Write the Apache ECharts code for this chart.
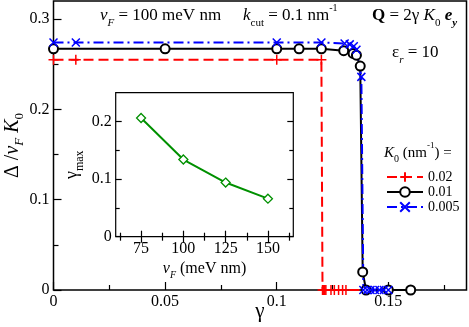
<!DOCTYPE html>
<html>
<head>
<meta charset="utf-8">
<script src="https://cdn.jsdelivr.net/npm/echarts@6/dist/echarts.min.js"></script>
<style>
  html, body { margin: 0; padding: 0; background: #fff; }
  #chart { width: 469px; height: 327px; }
</style>
</head>
<body>
<div id="chart"></div>
<script>
// main panel: gap Delta/(vF K0) against gamma, one curve per K0
const gammaK002 = [0, 0.01, 0.1, 0.12, 0.1205, 0.121, 0.1215, 0.122, 0.1243, 0.1258, 0.1277, 0.1295, 0.131, 0.14, 0.15];
const deltaK002 = [0.255, 0.255, 0.255, 0.255, 0, 0, 0, 0, 0, 0, 0, 0, 0, 0, 0];
const gammaK001 = [0, 0.05, 0.1, 0.11, 0.12, 0.13, 0.1342, 0.1357, 0.1374, 0.1385, 0.14, 0.15, 0.16];
const deltaK001 = [0.267, 0.267, 0.267, 0.267, 0.267, 0.265, 0.262, 0.26, 0.248, 0.02, 0, 0, 0];
const gammaK0005 = [0, 0.01, 0.1, 0.12, 0.1304, 0.1327, 0.1345, 0.1357, 0.1379, 0.1388, 0.1405, 0.142, 0.144, 0.146, 0.148, 0.15];
const deltaK0005 = [0.274, 0.274, 0.274, 0.274, 0.273, 0.272, 0.27, 0.266, 0.236, 0, 0, 0, 0, 0, 0, 0];
const k0Names = ['0.02', '0.01', '0.005'];

// inset: gamma_max against vF
const vF = [75, 100, 125, 150];
const gammaMax = [0.206, 0.134, 0.094, 0.066];

// ticks
const xMajor = [0, 0.05, 0.1, 0.15];
const xMinor = [0.025, 0.075, 0.125, 0.175];
const yMajor = [0, 0.1, 0.2, 0.3];
const yMinor = [0.05, 0.15, 0.25];
const inXMajor = [75, 100, 125, 150];
const inXMinor = [62.5, 87.5, 112.5, 137.5, 162.5];
const inYMajor = [0, 0.1, 0.2];
const inYMinor = [0.05, 0.15];

const serif = 'Liberation Serif';
const zip = (a, b) => a.map((v, i) => [v, b[i]]);

function rich(S) {
  const sub = Math.round(S * 0.65), sup = Math.round(S * 0.6);
  return {
    n: { fontFamily: serif, fontSize: S, lineHeight: S + 8, color: '#000' },
    i: { fontFamily: serif, fontSize: S, lineHeight: S + 8, fontStyle: 'italic', color: '#000' },
    b: { fontFamily: serif, fontSize: S, lineHeight: S + 8, fontWeight: 'bold', color: '#000' },
    bi: { fontFamily: serif, fontSize: S, lineHeight: S + 8, fontWeight: 'bold', fontStyle: 'italic', color: '#000' },
    s: { fontFamily: serif, fontSize: sub, lineHeight: sub, verticalAlign: 'bottom', color: '#000' },
    si: { fontFamily: serif, fontSize: sub, lineHeight: sub, verticalAlign: 'bottom', fontStyle: 'italic', color: '#000' },
    sbi: { fontFamily: serif, fontSize: sub, lineHeight: sub, verticalAlign: 'bottom', fontWeight: 'bold', fontStyle: 'italic', color: '#000' },
    p: { fontFamily: serif, fontSize: sup, lineHeight: sup, verticalAlign: 'top', color: '#000' }
  };
}

function ax(grid, pos, min, max, ticks, len, labels, extra) {
  return Object.assign({
    type: 'value', gridIndex: grid, position: pos, min: min, max: max,
    nameMoveOverlap: false,
    axisLine: { show: false },
    splitLine: { show: false },
    axisTick: { show: true, inside: true, length: len, customValues: ticks, lineStyle: { color: '#000', width: 1.2 } },
    axisLabel: labels ? {
      show: true, customValues: labels, margin: 4, showMaxLabel: true,
      fontFamily: serif, fontSize: 16, color: '#000'
    } : { show: false }
  }, extra || {});
}

const plus = 'path://M-1,0L1,0M0,-1L0,1';
const cross = 'path://M-1,-1L1,1M-1,1L1,-1';
const diamond = 'path://M0,-1L1,0L0,1L-1,0Z';

const mainGrid = { left: 53.5, top: 1, right: 2.5, bottom: 37, outerBoundsMode: 'none' };
const insetGrid = { left: 115.7, top: 92.7, width: 177.6, height: 144, outerBoundsMode: 'none' };

const chart = echarts.init(document.getElementById('chart'));
chart.setOption({
  animation: false,
  backgroundColor: '#fff',
  grid: [
    Object.assign({ show: true, borderColor: '#000', borderWidth: 1.5, backgroundColor: 'transparent' }, mainGrid),
    Object.assign({ show: false }, mainGrid),
    Object.assign({ show: true, borderColor: '#000', borderWidth: 1.2, backgroundColor: '#fff' }, insetGrid),
    Object.assign({ show: false }, insetGrid)
  ],
  xAxis: [
    ax(0, 'bottom', 0, 0.185, xMajor, 8, xMajor, {
      name: '{n|γ}', nameLocation: 'middle', nameGap: 7,
      nameTextStyle: { rich: rich(21) }
    }),
    ax(1, 'bottom', 0, 0.185, xMinor, 5),
    ax(2, 'bottom', 60, 165, inXMajor, 6, inXMajor, {
      name: '{i|v}{si|F}{n| (meV nm)}', nameLocation: 'middle', nameGap: 20,
      nameTextStyle: { rich: rich(16) }
    }),
    ax(2, 'top', 60, 165, inXMajor, 6),
    ax(3, 'bottom', 60, 165, inXMinor, 4),
    ax(3, 'top', 60, 165, inXMinor, 4)
  ],
  yAxis: [
    ax(0, 'left', 0, 0.32, yMajor, 8, yMajor, {
      name: '{n|Δ /}{i|v}{si|F}{n| }{i|K}{s|0}', nameLocation: 'middle', nameGap: 27, nameRotate: 90,
      nameTextStyle: { rich: rich(20) }
    }),
    ax(1, 'left', 0, 0.32, yMinor, 5),
    ax(2, 'left', 0, 0.25, inYMajor, 6, inYMajor, {
      name: '{n|γ}{s|max}', nameLocation: 'middle', nameGap: 30, nameRotate: 90,
      nameTextStyle: { rich: rich(18) }
    }),
    ax(2, 'right', 0, 0.25, inYMajor, 6),
    ax(3, 'left', 0, 0.25, inYMinor, 4),
    ax(3, 'right', 0, 0.25, inYMinor, 4)
  ],
  legend: {
    orient: 'vertical', left: 386, top: 170, padding: 0,
    itemWidth: 36, itemHeight: 12, itemGap: 1,
    data: k0Names,
    textStyle: { fontFamily: serif, fontSize: 14, color: '#000', lineHeight: 14 }
  },
  series: [
    {
      name: k0Names[0], type: 'line', xAxisIndex: 0, yAxisIndex: 0,
      data: zip(gammaK002, deltaK002),
      symbol: plus, symbolSize: 10,
      itemStyle: { color: '#ff0000', borderColor: '#ff0000', borderWidth: 1.5 },
      lineStyle: { color: '#ff0000', width: 2, type: [10, 5] }
    },
    {
      name: k0Names[1], type: 'line', xAxisIndex: 0, yAxisIndex: 0,
      data: zip(gammaK001, deltaK001),
      symbol: 'emptyCircle', symbolSize: 9,
      itemStyle: { color: '#000', borderColor: '#000', borderWidth: 1.5 },
      lineStyle: { color: '#000', width: 2 }
    },
    {
      name: k0Names[2], type: 'line', xAxisIndex: 0, yAxisIndex: 0,
      data: zip(gammaK0005, deltaK0005),
      symbol: cross, symbolSize: 8,
      itemStyle: { color: '#0000ff', borderColor: '#0000ff', borderWidth: 1.5 },
      lineStyle: { color: '#0000ff', width: 2, type: [10, 4, 2, 4] }
    },
    {
      name: 'inset', type: 'line', xAxisIndex: 2, yAxisIndex: 2,
      data: zip(vF, gammaMax),
      symbol: diamond, symbolSize: 9,
      itemStyle: { color: '#fff', borderColor: '#009000', borderWidth: 1.3 },
      lineStyle: { color: '#009000', width: 2 }
    }
  ],
  graphic: [
    { type: 'text', x: 100, y: 16, style: { text: '{i|v}{si|F}{n| = 100 meV nm}', rich: rich(17), verticalAlign: 'middle' } },
    { type: 'text', x: 243, y: 16, style: { text: '{i|k}{s|cut}{n| = 0.1 nm}{p|-1}', rich: rich(17), verticalAlign: 'middle' } },
    { type: 'text', x: 372, y: 16, style: { text: '{b|Q}{n| = 2γ }{i|K}{s|0}{n| }{bi|e}{sbi|y}', rich: rich(17), verticalAlign: 'middle' } },
    { type: 'text', x: 392, y: 53, style: { text: '{n|ε}{si|r}{n| = 10}', rich: rich(17), verticalAlign: 'middle' } },
    { type: 'text', x: 384, y: 153, style: { text: '{i|K}{s|0}{n| (nm}{p|-1}{n|) =}', rich: rich(15), verticalAlign: 'middle' } }
  ]
});
</script>
</body>
</html>
